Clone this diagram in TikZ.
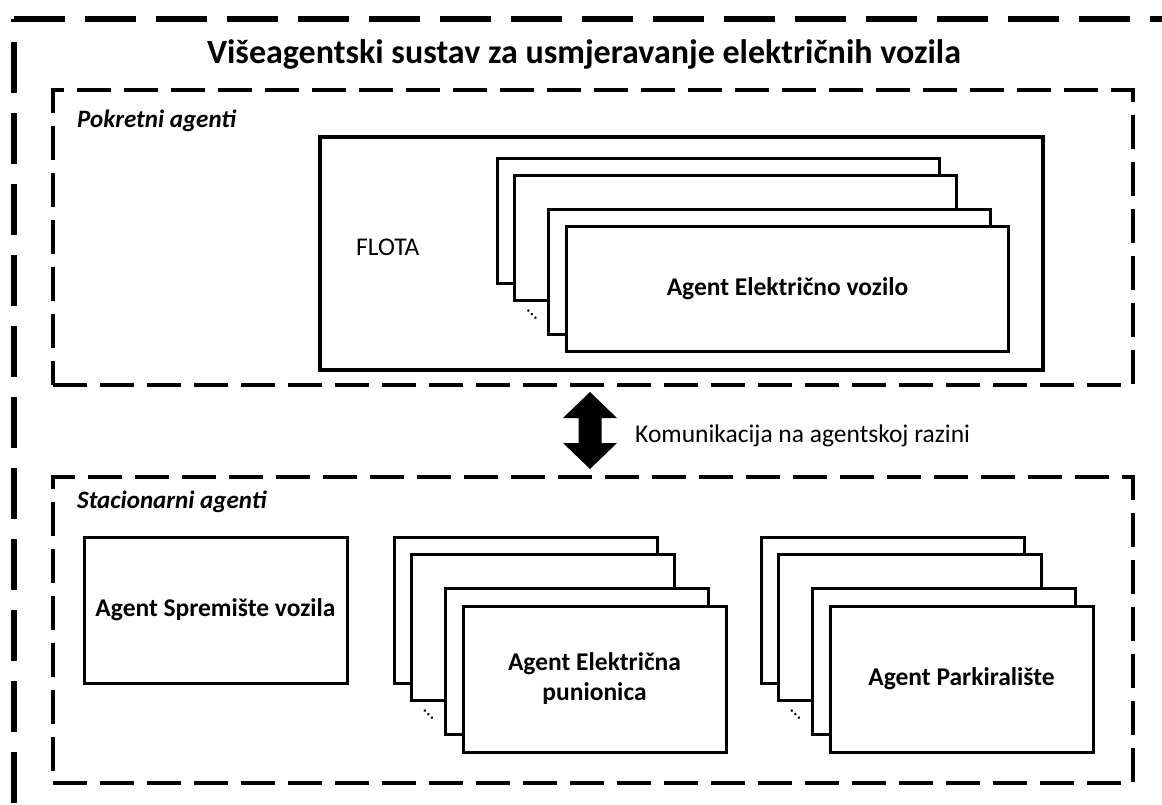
\documentclass[tikz,border=0pt]{standalone}
\usepackage{fontspec}
\setmainfont{Carlito}
\usetikzlibrary{calc}

\begin{document}
\begin{tikzpicture}[x=1pt,y=-1pt,
  zone/.style={draw, line width=4.5pt, dash pattern=on 34pt off 13pt},
  agent/.style={draw, fill=white, line width=3pt, minimum width=263pt, minimum height=146pt,
    align=center, font=\fontsize{25.5}{30}\selectfont\bfseries},
  vozilo/.style={agent, minimum width=442pt, minimum height=124pt},
  regija/.style={anchor=base west, inner sep=0pt, font=\fontsize{25}{30}\selectfont\bfseries\itshape},
  obican/.style={anchor=base west, inner sep=0pt, font=\fontsize{25.5}{30}\selectfont},
  tockice/.style={inner sep=0pt, rotate=-45, font=\fontsize{20}{20}\selectfont}
]
\useasboundingbox (0,0) rectangle (1162,805);
% vanjski okvir
\begin{scope}
\clip (0,0) rectangle (1162,805);
\draw[line width=6pt, dash pattern=on 51pt off 20pt, dash phase=48pt] (14,19) -- (14,840);
\draw[line width=6pt, dash pattern=on 51pt off 20pt] (14,19) -- (1200,19);
\end{scope}
\node[anchor=base, font=\fontsize{34}{40}\selectfont\bfseries](naslov) at (584,64) {Višeagentski sustav za usmjeravanje električnih vozila};

% pokretni agenti
\node[zone, minimum width=1080pt, minimum height=295pt](pokretni) at (593,237.5) {};
\node[regija](lblpok) at (77,128) {Pokretni agenti};
\node[draw, line width=4.5pt, minimum width=723pt, minimum height=233pt](flota) at (681.5,253.5) {};
\node[obican](flotatxt) at (356,255) {FLOTA};
\foreach \d [count=\i] in {0,17,51}
  \node[vozilo](ev\i) at (718.5+\d,221+\d) {};
\node[vozilo](ev) at (787.5,289) {Agent Električno vozilo};
\node[tockice](evdots) at ($(ev2.south west)+(19,13)$) {…};

% komunikacija
\coordinate (strgore) at (590,392);
\coordinate (strdolje) at (590,469);
\fill (strgore) -- ++(27,26) -- ++(-15.5,0) -- ++(0,25) -- ++(15.5,0) -- (strdolje)
  -- ++(-27,-26) -- ++(15.5,0) -- ++(0,-25) -- ++(-15.5,0) -- cycle;
\node[obican](komunikacija) at (635,442) {Komunikacija na agentskoj razini};

% stacionarni agenti
\node[zone, minimum width=1080pt, minimum height=306pt](stacionarni) at (593,630) {};
\node[regija](lblsta) at (77,508) {Stacionarni agenti};
\node[agent](spremiste) at (215.5,610) {Agent Spremište vozila};
\foreach \d [count=\i] in {0,17,51}
  \node[agent](pun\i) at (525.5+\d,610+\d) {};
\node[agent](punionica) at (594.5,679) {Agent Električna\\punionica};
\node[tockice](pundots) at ($(pun2.south west)+(19,13)$) {…};
\foreach \d [count=\i] in {0,17,51}
  \node[agent](park\i) at (892.5+\d,610+\d) {};
\node[agent](parkiraliste) at (961.5,679) {Agent Parkiralište};
\node[tockice](parkdots) at ($(park2.south west)+(19,13)$) {…};
\end{tikzpicture}
\end{document}
